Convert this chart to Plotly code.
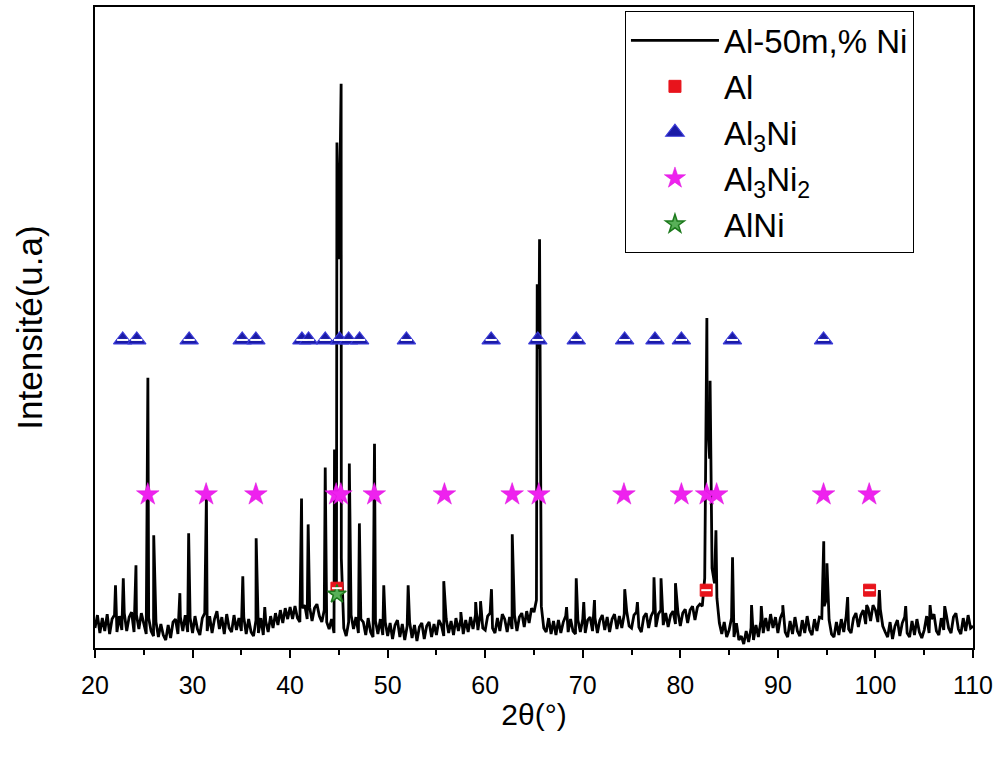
import numpy as np
import plotly.graph_objects as go

# ---------------- data ----------------
# baseline/noise samples of the pattern, every 0.25 deg from 20 to 110 (intensity, a.u.)
grid_start = 20.0
grid_step = 0.25
baseline = [
    # 20.00 - 24.75
    200, 330, 150, 300, 170, 340, 140, 290, 330, 160, 320, 180, 350, 170, 310, 360, 160, 330, 190, 350,
    # 25.00 - 29.75
    250, 140, 300, 170, 120, 260, 110, 240, 130, 80, 230, 100, 260, 290, 140, 310, 170, 330, 160, 300,
    # 30.00 - 34.75
    150, 320, 190, 130, 300, 350, 170, 320, 150, 290, 370, 190, 310, 140, 340, 200, 160, 330, 180, 300,
    # 35.00 - 39.75
    170, 310, 140, 290, 160, 120, 280, 150, 300, 130, 270, 160, 320, 200, 350, 230, 380, 250, 400, 290,
    # 40.00 - 44.75
    410, 290, 420, 300, 260, 400, 430, 290, 410, 270, 400, 440, 320, 260, 380, 260, 190, 290, 150, 600,
    # 45.00 - 49.75
    3900, 900, 200, 120, 260, 330, 190, 310, 150, 290, 260, 130, 300, 160, 110, 270, 140, 290, 130, 260,
    # 50.00 - 54.75
    120, 250, 90, 230, 280, 110, 240, 80, 220, 260, 100, 230, 70, 210, 250, 90, 220, 260, 110, 240,
    # 55.00 - 59.75
    130, 280, 230, 120, 290, 150, 270, 130, 300, 170, 290, 140, 280, 160, 310, 190, 330, 180, 350, 200,
    # 60.00 - 64.75
    180, 320, 350, 200, 150, 300, 170, 340, 290, 160, 310, 190, 330, 170, 310, 350, 210, 370, 250, 400,
    # 65.00 - 69.75
    360, 480, 3000, 420, 200, 160, 300, 140, 270, 130, 280, 150, 260, 320, 160, 290, 170, 140, 280, 160,
    # 70.00 - 74.75
    290, 150, 280, 310, 170, 300, 150, 280, 330, 180, 310, 160, 290, 340, 190, 320, 200, 340, 370, 220,
    # 75.00 - 79.75
    200, 330, 360, 210, 160, 310, 350, 200, 320, 370, 210, 340, 380, 230, 350, 210, 330, 370, 240, 360,
    # 80.00 - 84.75
    220, 350, 390, 250, 380, 420, 280, 410, 440, 420, 700, 2400, 1900, 800, 650, 500, 250, 140, 260, 110,
    # 85.00 - 89.75
    180, 300, 110, 250, 80, 120, 40, 170, 60, 200, 80, 230, 110, 270, 150, 300, 170, 340, 200, 310,
    # 90.00 - 94.75
    150, 300, 360, 160, 110, 270, 140, 310, 170, 120, 280, 150, 320, 180, 130, 290, 170, 310, 300, 420,
    # 95.00 - 99.75
    500, 280, 140, 110, 260, 130, 290, 160, 320, 190, 150, 300, 350, 210, 330, 380, 240, 400, 270, 430,
    # 100.00 - 104.75
    380, 260, 390, 220, 160, 110, 260, 90, 220, 280, 120, 250, 310, 150, 110, 270, 130, 290, 160, 100,
    # 105.00 - 109.75
    180, 320, 150, 290, 340, 170, 130, 300, 180, 340, 200, 150, 310, 350, 190, 140, 300, 170, 330, 200,
    # 110.00
    220,
]

# diffraction peak apexes (2theta, intensity)
peak_pos = [22.1, 22.9, 24.2, 25.42, 26.02, 28.7, 29.6, 31.42, 35.15, 36.52, 37.4,
            41.17, 41.85, 43.6, 44.55, 44.8, 45.23, 46.07, 47.1, 48.65, 49.6, 52.1,
            55.75, 57.5, 59.02, 59.52, 60.64, 62.77, 65.33, 65.57, 68.34, 69.33, 70.1,
            71.2, 74.3, 75.6, 77.3, 78.02, 79.5, 82.55, 82.72, 83.05, 83.65, 85.35,
            87.3, 88.3, 90.5, 94.7, 95.03, 97.15, 99.1, 100.4, 103.1, 105.6, 107.1]
peak_int = [630, 700, 830, 2710, 1130, 550, 1150, 1530, 720, 1100, 410,
            1500, 1240, 1810, 1990, 5070, 5660, 1850, 1250, 2050, 630, 630,
            670, 360, 460, 470, 590, 1140, 3650, 4100, 410, 700, 460,
            480, 590, 460, 710, 700, 650, 1280, 3310, 2680, 1180, 910,
            430, 420, 430, 1070, 850, 510, 430, 580, 420, 430, 420]

# phase reference markers
al_pos = [44.8, 82.65, 99.4]
al_y = [600, 580, 580]
al3ni_pos = [22.84, 24.28, 29.65, 35.09, 36.49, 41.21, 41.89, 43.6, 45.07, 46.0,
             47.12, 51.92, 60.61, 65.39, 69.33, 74.29, 77.4, 80.11, 85.34, 94.68]
al3ni_y = [3090] * len(al3ni_pos)
al3ni2_pos = [25.41, 31.39, 36.49, 44.72, 45.2, 48.63, 55.82, 62.76, 65.49, 74.22,
              80.11, 82.7, 83.72, 94.68, 99.36]
al3ni2_y = [1540] * len(al3ni2_pos)
alni_pos = [44.8]
alni_y = [540]

x_ticks = [20, 30, 40, 50, 60, 70, 80, 90, 100, 110]

# ---------------- assemble the trace ----------------
grid_x = grid_start + grid_step * np.arange(len(baseline))
all_x = np.concatenate([grid_x, np.array(peak_pos)])
all_y = np.concatenate([np.array(baseline, float), np.array(peak_int, float)])
order = np.argsort(all_x, kind="stable")
tx, ty = all_x[order], all_y[order]

fig = go.Figure()
fig.add_trace(go.Scatter(x=tx, y=ty, mode="lines", name="Al-50m,% Ni",
                         line=dict(color="black", width=2.8)))
fig.add_trace(go.Scatter(x=al_pos, y=al_y, mode="markers", name="Al",
                         marker=dict(symbol="square", size=12, color="#e8141c",
                                     line=dict(color="#e8141c", width=1))))
fig.add_trace(go.Scatter(x=al3ni_pos, y=al3ni_y, mode="markers", name="Al<sub>3</sub>Ni",
                         marker=dict(symbol="triangle-up", size=16, color="#1b1ba6",
                                     line=dict(color="#3a3ad8", width=1.2))))
fig.add_trace(go.Scatter(x=al3ni2_pos, y=al3ni2_y, mode="markers", name="Al<sub>3</sub>Ni<sub>2</sub>",
                         marker=dict(symbol="star", size=17, color="#ee22ee",
                                     line=dict(color="#dd11dd", width=0.5))))
fig.add_trace(go.Scatter(x=alni_pos, y=alni_y, mode="markers", name="AlNi",
                         marker=dict(symbol="star", size=14, color="#58b058",
                                     line=dict(color="#1d7a1d", width=1.5))))

# white stripe of the half-filled Origin symbols
fig.add_trace(go.Scatter(x=al3ni_pos, y=al3ni_y, mode="markers", showlegend=False, hoverinfo="skip",
                         marker=dict(symbol="line-ew", size=8, line=dict(color="white", width=2))))
fig.add_trace(go.Scatter(x=al_pos, y=al_y, mode="markers", showlegend=False, hoverinfo="skip",
                         marker=dict(symbol="line-ew", size=7, line=dict(color="white", width=2))))

sans = "Liberation Sans, Arial"
fig.update_layout(
    width=999, height=765,
    margin=dict(l=95, r=26, t=5, b=117),
    plot_bgcolor="white", paper_bgcolor="white",
    showlegend=True,
    legend=dict(x=0.6036, y=0.993, xanchor="left", yanchor="top",
                bgcolor="white", bordercolor="black", borderwidth=1,
                font=dict(family=sans, size=33, color="black"),
                itemwidth=88, tracegroupgap=0),
    xaxis=dict(range=[20, 110], tickvals=x_ticks, ticktext=[str(v) for v in x_ticks],
               ticks="outside", ticklen=8, tickwidth=1.5, tickcolor="black",
               minor=dict(dtick=5, ticks="outside", ticklen=5, tickwidth=1.5, tickcolor="black"),
               showline=True, linecolor="black", linewidth=1.5, mirror=True,
               showgrid=False, zeroline=False, ticklabelstandoff=6,
               tickfont=dict(family=sans, size=25, color="black"),
               title=dict(text="2θ(°)", font=dict(family=sans, size=30, color="black"), standoff=6)),
    yaxis=dict(range=[0, 6430], showticklabels=False, ticks="",
               showline=True, linecolor="black", linewidth=1.5, mirror=True,
               showgrid=False, zeroline=False,
               title=dict(text="Intensité(u.a)", font=dict(family=sans, size=35, color="black"),
                          standoff=40)),
)

fig.write_html("out.html", config={"displayModeBar": False},
               post_script="document.body.style.margin='0px';")
